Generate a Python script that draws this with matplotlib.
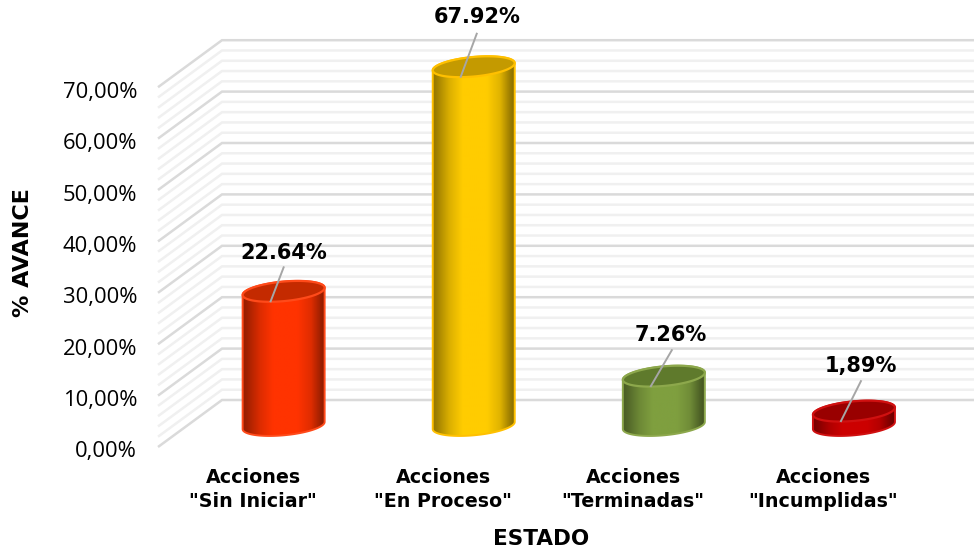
import numpy as np
import matplotlib
matplotlib.use("Agg")
import matplotlib.pyplot as plt
from matplotlib.patches import Polygon
from matplotlib.colors import to_rgb
from matplotlib.transforms import ScaledTranslation

categories = ['Acciones\n"Sin Iniciar"', 'Acciones\n"En Proceso"', 'Acciones\n"Terminadas"', 'Acciones\n"Incumplidas"']
bar_values = [26.1, 69.8, 9.6, 2.8]
value_labels = ['22.64%', '67.92%', '7.26%', '1,89%']
y_ticks = [0, 10, 20, 30, 40, 50, 60, 70]
y_ticklabels = ['0,00%', '10,00%', '20,00%', '30,00%', '40,00%', '50,00%', '60,00%', '70,00%']
minor_ticks = [v for v in range(0, 70, 2) if v % 10]
body_colors = ['#FF3300', '#FFCC00', '#7F9F3F', '#CC0000']
top_colors = ['#C42A00', '#C49A00', '#5F7A2C', '#990000']
rim_colors = ['#FF4A1A', '#FFC000', '#8DA84C', '#D01010']

W, H = 974, 552
plt.rcParams['font.family'] = ['DejaVu Sans']
fig = plt.figure(figsize=(W / 100, H / 100), dpi=100, facecolor='white')
ax = fig.add_axes([158 / W, (H - 447) / H, (974 - 158) / W, 447 / H])
PX_X, PX_Y = 190.1, 5.14
ax.set_facecolor('none')
xlim = ((158 - 253) / PX_X, (974 - 253) / PX_X)
ylim = (0, 447 / PX_Y)
dx, dy = 64 / PX_X, 47 / PX_Y
x0 = xlim[0]

def wall(v, color, lw, z):
    ax.plot([x0, x0 + dx, xlim[1]], [v, v + dy, v + dy], color=color, lw=lw, zorder=z,
            clip_on=False, solid_capstyle='butt', solid_joinstyle='miter')

for v in minor_ticks:
    wall(v, '#F0F0F0', 1.8, 1)
for v in y_ticks:
    wall(v, '#DADADA', 1.8, 2)

a, b, s = 41 / PX_X, 9.8 / PX_Y, 3.6 / PX_Y
frac_x = 22.5 / 47
base = 21.5 / PX_Y
ts = np.linspace(0, 2 * np.pi, 121)

def ell(cx, cy, t):
    return np.column_stack([cx + a * np.cos(t), cy + b * np.sin(t) + s * np.cos(t)])

prof_x = [0, .05, .2, .36, .66, .82, .94, 1]
prof_v = [.58, .64, .86, 1, 1, .88, .62, .52]
grad_t = np.linspace(0, 1, 128)
profile = np.interp(grad_t, prof_x, prof_v)

# label offsets, in pixels from the top of each cylinder
leader_end = [(0, 24), (3, 33), (8, 26), (7, 30)]
text_off = [(0, 38), (3, 50), (7, 41), (7, 45)]

for i, val in enumerate(bar_values):
    cx = i + dx * frac_x
    top = base + val
    lower = ell(cx, base, np.linspace(np.pi, 2 * np.pi, 60))
    upper = ell(cx, top, np.linspace(0, np.pi, 60))
    body = Polygon(np.vstack([lower, upper]), closed=True, fc='none', ec=rim_colors[i], lw=1.4, zorder=5)
    ax.add_patch(body)
    rgb = np.array(to_rgb(body_colors[i]))
    img = (profile[:, None] * rgb)[None, :, :]
    im = ax.imshow(img, extent=(cx - a, cx + a, base - 3, top + 3), aspect='auto', zorder=4,
                   interpolation='bilinear')
    clip = Polygon(np.vstack([lower, upper]), closed=True, transform=ax.transData)
    im.set_clip_path(clip)
    ax.add_patch(Polygon(ell(cx, top, ts), closed=True, fc=top_colors[i], ec=rim_colors[i], lw=1.6, zorder=6))
    # leader and label
    sx, sy = cx - 13 / PX_X, top - 10 / PX_Y
    ex, ey = cx + leader_end[i][0] / PX_X, top + leader_end[i][1] / PX_Y
    ax.plot([sx, ex], [sy, ey], color='#A6A6A6', lw=1.4, zorder=7, clip_on=False)
    ax.annotate(value_labels[i], xy=(cx, top), xytext=text_off[i], textcoords='offset pixels',
                ha='center', va='center', fontsize=15, fontweight='bold', color='black',
                zorder=8, annotation_clip=False)

ax.set_xlim(*xlim)
ax.set_ylim(*ylim)
for sp in ax.spines.values():
    sp.set_visible(False)
ax.set_yticks(y_ticks, y_ticklabels)
ax.set_xticks(range(len(categories)), categories)
ax.tick_params(axis='y', length=0, pad=15, labelsize=15.8, labelcolor='#000000')
ax.tick_params(axis='x', length=0, pad=15, labelsize=13.7, labelcolor='#000000')
down = ScaledTranslation(0, -2.5 / 100, fig.dpi_scale_trans)
for t in ax.get_yticklabels():
    t.set_family('Open Sans')
    t.set_transform(t.get_transform() + down)
for t in ax.get_xticklabels():
    t.set_fontweight('bold')
    t.set_linespacing(1.32)
fig.text(23 / W, 1 - 253 / H, '% AVANCE', rotation=90, ha='center', va='center', fontsize=16, fontweight='bold')
fig.text(541 / W, 1 - 539 / H, 'ESTADO', ha='center', va='center', fontsize=15.5, fontweight='bold')
fig.savefig('out.png', dpi=100, facecolor='white')
